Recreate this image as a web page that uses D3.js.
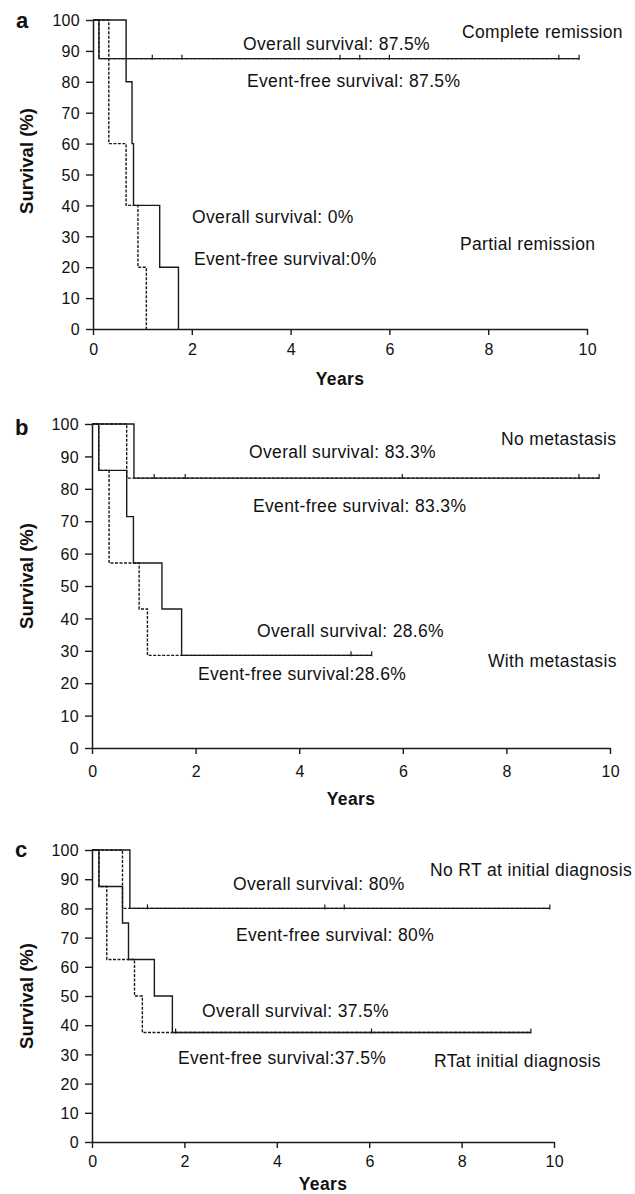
<!DOCTYPE html>
<html><head><meta charset="utf-8">
<script src="https://cdn.jsdelivr.net/npm/d3@7"></script>
<style>
body{margin:0;background:#fff}
svg{display:block}
text{font-family:"Liberation Sans",Arial,Helvetica,sans-serif;fill:#111}
</style>
</head><body>
<svg id="chart" width="635" height="1194"></svg>
<script>
// ---------------- DATA ----------------
const xTickValues = [0, 2, 4, 6, 8, 10];
const yTickValues = [0, 10, 20, 30, 40, 50, 60, 70, 80, 90, 100];
const xTitle = "Years";
const yTitle = "Survival (%)";
const panelLetters = ["a", "b", "c"];

// Panel a: complete vs partial remission (time in years, survival in %)
const aCompleteOS_t  = [0, 0.12, 9.84];
const aCompleteOS_s  = [100, 87.5, 87.5];
const aCompleteEFS_t = [0, 0.12, 9.84];
const aCompleteEFS_s = [100, 87.5, 87.5];
const aCompleteCensor = [1.2, 1.8, 5.0, 5.4, 6.0, 9.43, 9.84];
const aPartialOS_t  = [0, 0.67, 0.79, 0.82, 1.35, 1.73];
const aPartialOS_s  = [100, 80, 60, 40, 20, 0];
const aPartialEFS_t = [0, 0.32, 0.67, 0.91, 1.08];
const aPartialEFS_s = [100, 60, 40, 20, 0];
const aPartialCensor = [];
const aTexts = ["Complete remission", "Overall survival: 87.5%", "Event-free survival: 87.5%",
                "Overall survival: 0%", "Event-free survival:0%", "Partial remission"];

// Panel b: no metastasis vs with metastasis
const bNoMetOS_t  = [0, 0.81, 9.79];
const bNoMetOS_s  = [100, 83.3, 83.3];
const bNoMetEFS_t = [0, 0.67, 9.79];
const bNoMetEFS_s = [100, 83.3, 83.3];
const bNoMetCensor = [1.2, 1.8, 5.99, 9.4, 9.79];
const bMetOS_t  = [0, 0.13, 0.67, 0.80, 1.35, 1.73, 5.4];
const bMetOS_s  = [100, 85.7, 71.4, 57.1, 42.9, 28.6, 28.6];
const bMetEFS_t = [0, 0.13, 0.33, 0.91, 1.07, 5.4];
const bMetEFS_s = [100, 85.7, 57.1, 42.9, 28.6, 28.6];
const bMetCensor = [5.0, 5.4];
const bTexts = ["No metastasis", "Overall survival: 83.3%", "Event-free survival: 83.3%",
                "Overall survival: 28.6%", "Event-free survival:28.6%", "With metastasis"];

// Panel c: no RT vs RT at initial diagnosis
const cNoRTOS_t  = [0, 0.82, 9.91];
const cNoRTOS_s  = [100, 80, 80];
const cNoRTEFS_t = [0, 0.66, 9.91];
const cNoRTEFS_s = [100, 80, 80];
const cNoRTCensor = [1.2, 5.04, 5.46, 9.91];
const cRTOS_t  = [0, 0.15, 0.66, 0.79, 1.35, 1.74, 9.5];
const cRTOS_s  = [100, 87.5, 75, 62.5, 50, 37.5, 37.5];
const cRTEFS_t = [0, 0.15, 0.32, 0.92, 1.09, 9.5];
const cRTEFS_s = [100, 87.5, 62.5, 50, 37.5, 37.5];
const cRTCensor = [1.81, 6.05, 9.5];
const cTexts = ["No RT at initial diagnosis", "Overall survival: 80%", "Event-free survival: 80%",
                "Overall survival: 37.5%", "Event-free survival:37.5%", "RTat initial diagnosis"];

// ---------------- LAYOUT ----------------
const panels = [
  { letter: panelLetters[0], x0: 93, x1: 587, yTop: 20, yBot: 329,
    letterPos: [16, 28], xLabelY: 355, xTitleY: 385, yTitleCy: 161,
    groups: [
      { os: [aCompleteOS_t, aCompleteOS_s], efs: [aCompleteEFS_t, aCompleteEFS_s], censor: aCompleteCensor },
      { os: [aPartialOS_t, aPartialOS_s], efs: [aPartialEFS_t, aPartialEFS_s], censor: aPartialCensor }
    ],
    texts: aTexts, textPos: [[462, 38], [243, 50], [247, 87], [192, 223], [194, 265], [460, 250]] },
  { letter: panelLetters[1], x0: 92, x1: 610, yTop: 424, yBot: 748,
    letterPos: [15, 435], xLabelY: 777, xTitleY: 805, yTitleCy: 576,
    groups: [
      { os: [bNoMetOS_t, bNoMetOS_s], efs: [bNoMetEFS_t, bNoMetEFS_s], censor: bNoMetCensor },
      { os: [bMetOS_t, bMetOS_s], efs: [bMetEFS_t, bMetEFS_s], censor: bMetCensor }
    ],
    texts: bTexts, textPos: [[501, 445], [249, 458], [253, 512], [257, 637], [198, 680], [488, 667]] },
  { letter: panelLetters[2], x0: 92, x1: 554, yTop: 850, yBot: 1142,
    letterPos: [15, 857], xLabelY: 1167, xTitleY: 1190, yTitleCy: 996,
    groups: [
      { os: [cNoRTOS_t, cNoRTOS_s], efs: [cNoRTEFS_t, cNoRTEFS_s], censor: cNoRTCensor },
      { os: [cRTOS_t, cRTOS_s], efs: [cRTEFS_t, cRTEFS_s], censor: cRTCensor }
    ],
    texts: cTexts, textPos: [[430, 876], [233, 890], [236, 941], [202, 1017], [178, 1064], [434, 1067]] }
];

const svg = d3.select("#chart");
const ink = "#1a1a1a";

panels.forEach(p => {
  const x = d3.scaleLinear().domain([0, 10]).range([p.x0, p.x1]);
  const y = d3.scaleLinear().domain([0, 100]).range([p.yBot, p.yTop]);
  const g = svg.append("g");

  // axes
  const xAxis = d3.axisBottom(x).tickValues(xTickValues).tickSize(6).tickSizeOuter(0).tickFormat(d3.format("d"));
  const yAxis = d3.axisLeft(y).tickValues(yTickValues).tickSize(7).tickSizeOuter(0).tickFormat(d3.format("d"));
  const gx = g.append("g").attr("transform", `translate(0,${p.yBot})`).call(xAxis);
  const gy = g.append("g").attr("transform", `translate(${p.x0},0)`).call(yAxis);
  [gx, gy].forEach(a => {
    a.select(".domain").attr("stroke", ink).attr("stroke-width", 1.5);
    a.selectAll(".tick line").attr("stroke", ink).attr("stroke-width", 1.4);
    a.selectAll(".tick text").style("font-size", "16px").style("letter-spacing", "0.3px")
      .attr("fill", "#111").style("font-family", '"Liberation Sans",Arial,sans-serif');
  });
  gx.selectAll(".tick text").attr("y", null).attr("dy", null)
    .attr("transform", `translate(0.3,${p.xLabelY - p.yBot})`);
  gy.selectAll(".tick text").attr("x", -13).attr("dy", "0.36em");

  // axis titles
  g.append("text").attr("x", (p.x0 + p.x1) / 2).attr("y", p.xTitleY)
    .attr("text-anchor", "middle").style("font-weight", "bold").style("font-size", "17.5px")
    .style("letter-spacing", "0.4px").text(xTitle);
  g.append("text").attr("transform", `translate(33,${p.yTitleCy}) rotate(-90)`)
    .attr("text-anchor", "middle").style("font-weight", "bold").style("font-size", "18.5px")
    .text(yTitle);

  // panel letter
  g.append("text").attr("x", p.letterPos[0]).attr("y", p.letterPos[1])
    .style("font-weight", "bold").style("font-size", "22px").text(p.letter);

  // curves
  const line = d3.line().x(d => x(d[0])).y(d => y(d[1])).curve(d3.curveStepAfter);
  p.groups.forEach(gr => {
    const os = d3.zip(gr.os[0], gr.os[1]);
    const efs = d3.zip(gr.efs[0], gr.efs[1]);
    g.append("path").attr("d", line(os)).attr("fill", "none")
      .attr("stroke", ink).attr("stroke-width", 1.4);
    g.append("path").attr("d", line(efs)).attr("fill", "none")
      .attr("stroke", ink).attr("stroke-width", 1.4).attr("stroke-dasharray", "3,1.5");
    // censoring marks on the overall-survival curve
    const lastS = gr.os[1][gr.os[1].length - 1];
    g.selectAll(null).data(gr.censor).enter().append("line")
      .attr("x1", d => x(d)).attr("x2", d => x(d))
      .attr("y1", y(lastS) + 1).attr("y2", y(lastS) - 4)
      .attr("stroke", ink).attr("stroke-width", 1.2);
  });

  // annotations
  p.texts.forEach((t, i) => {
    g.append("text").attr("x", p.textPos[i][0]).attr("y", p.textPos[i][1])
      .style("font-size", "17.5px").style("letter-spacing", "0.35px").text(t);
  });
});
</script>
</body></html>
